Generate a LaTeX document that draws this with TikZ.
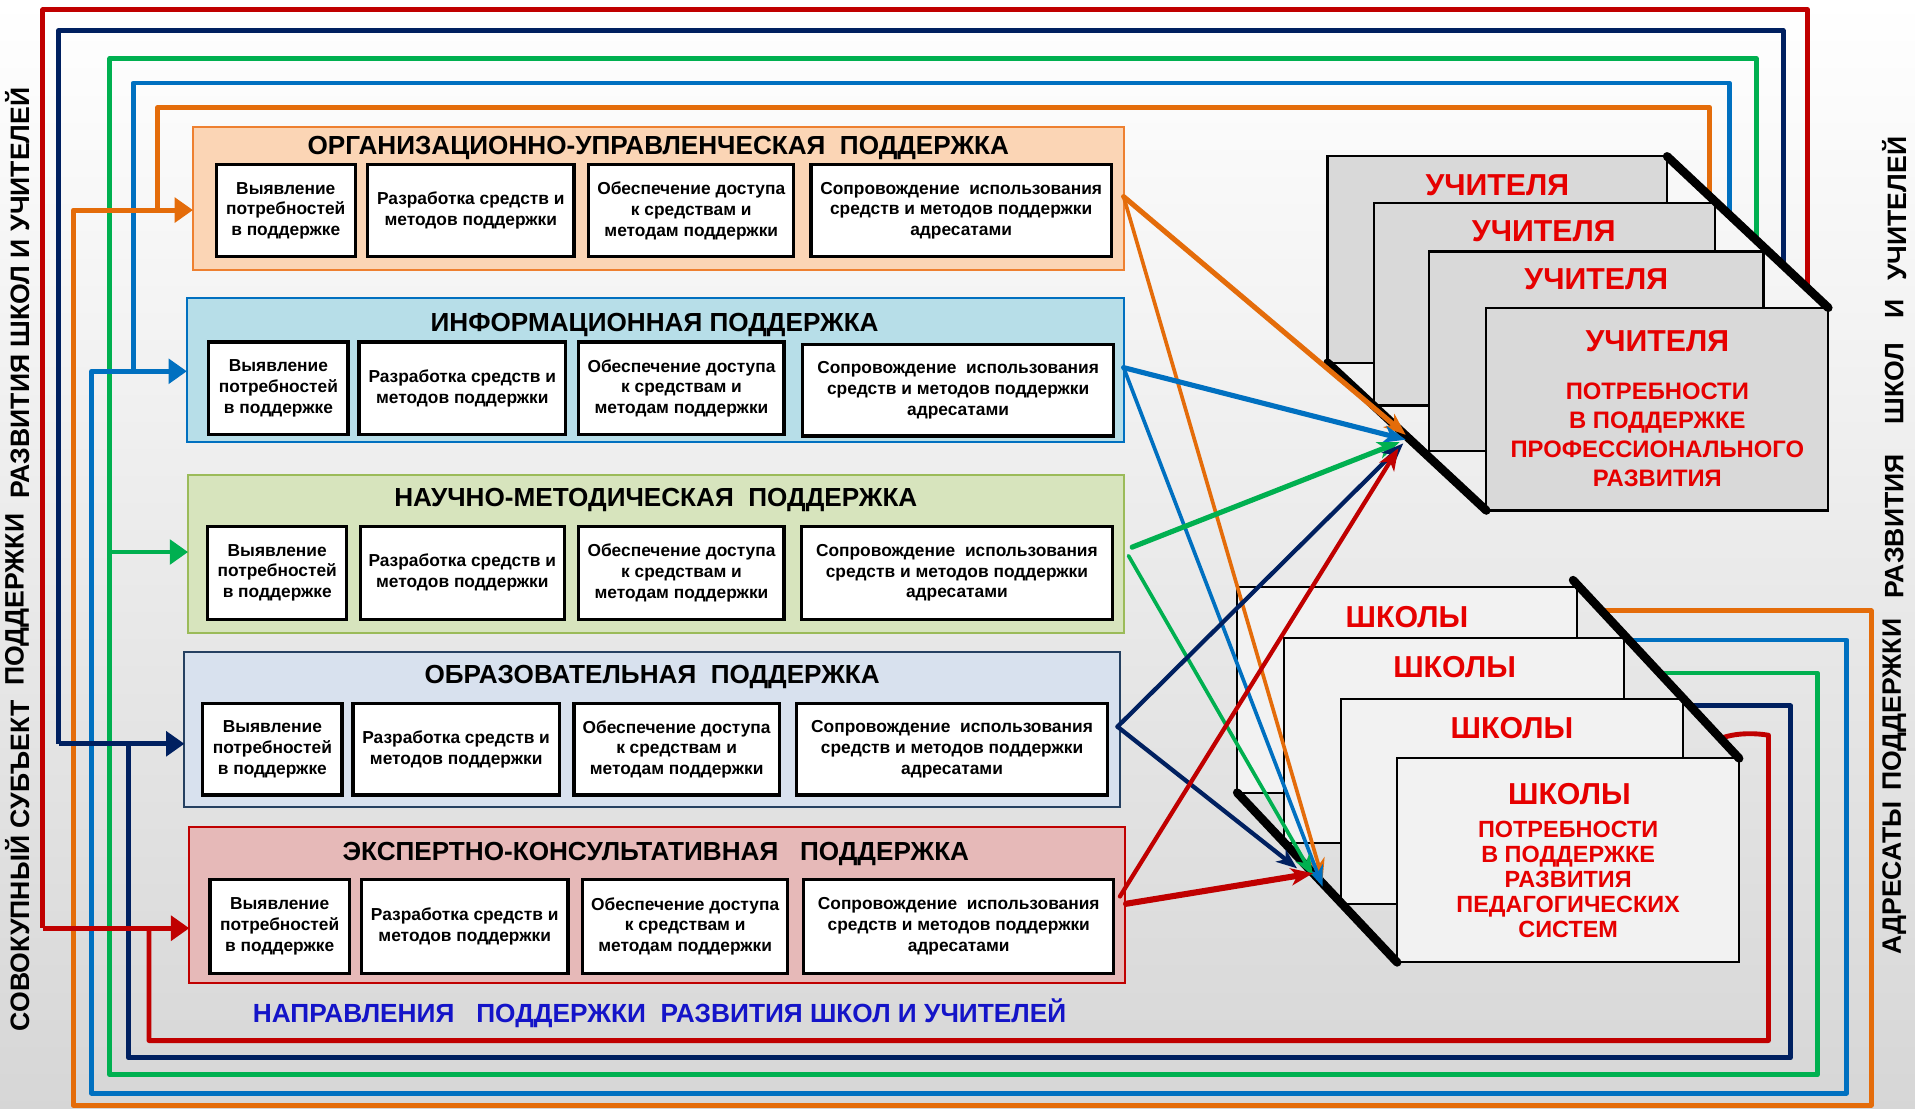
\documentclass[tikz,border=0pt]{standalone}
\usepackage{fontspec}
\setmainfont{Liberation Sans}
\usetikzlibrary{arrows.meta,fit}
\definecolor{cRed}{HTML}{C00000}
\definecolor{cNavy}{HTML}{002060}
\definecolor{cGreen}{HTML}{00B050}
\definecolor{cBlue}{HTML}{0070C0}
\definecolor{cOrange}{HTML}{E46C0A}
\definecolor{pOrF}{HTML}{FBD5B5}
\definecolor{pOrD}{HTML}{EE8030}
\definecolor{pBlF}{HTML}{B7DEE8}
\definecolor{pGrF}{HTML}{D7E4BD}
\definecolor{pGrD}{HTML}{9BBB59}
\definecolor{pEdF}{HTML}{D8E1EE}
\definecolor{pEdD}{HTML}{254061}
\definecolor{pExF}{HTML}{E6B9B8}
\definecolor{tRed}{HTML}{E60000}
\definecolor{tBlue}{HTML}{1414C8}
\definecolor{tchF}{HTML}{D9D9D9}
\definecolor{schF}{HTML}{F2F2F2}
\newcommand{\subbx}[6]{\node[subbox, fit={(#2,#3) (#4,#5)}] (#1) {};
  \node[boxtext] (#1t) at (#1.center) {#6};}
\newcommand{\tBoxA}{Выявление\\потребностей\\в поддержке}
\newcommand{\tBoxB}{Разработка средств и\\методов поддержки}
\newcommand{\tBoxC}{Обеспечение доступа\\к средствам и\\методам поддержки}
\newcommand{\tBoxD}{Сопровождение\ \ использования\\средств и методов поддержки\\адресатами}
\tikzset{
  panel/.style={draw, line width=1.6pt, inner sep=0pt, outer sep=0pt},
  ptitle/.style={font=\fontsize{21.4}{24}\selectfont\bfseries, inner sep=0pt},
  subbox/.style={draw=black, fill=white, line width=2.6pt, inner sep=0pt, outer sep=0pt},
  boxtext/.style={inner sep=0pt, align=center, font=\fontsize{14.2}{17}\selectfont\bfseries},
  tbox/.style={draw=black, fill=tchF, line width=1.8pt, inner sep=0pt, outer sep=0pt},
  sbox/.style={draw=black, fill=schF, line width=1.6pt, inner sep=0pt, outer sep=0pt},
  diag/.style={line width=7pt, line cap=round},
  bigt/.style={font=\fontsize{24.8}{28}\selectfont\bfseries, text=tRed, inner sep=0pt},
  subt/.style={font=\fontsize{19.5}{23.6}\selectfont\bfseries, text=tRed, inner sep=0pt, align=center},
  subs/.style={font=\fontsize{19.2}{20.6}\selectfont\bfseries, text=tRed, inner sep=0pt, align=center},
  vtext/.style={font=\fontsize{21.8}{24}\selectfont\bfseries, inner sep=0pt, rotate=90},
  loop/.style={line width=4pt, line join=round},
  bigarrow/.style={line width=4pt, -{Triangle[length=15pt,width=20pt]}},
  darT/.style={line width=4.2pt, line cap=round, -{Stealth[length=18pt,width=14pt,inset=5pt]}},
  darS/.style={line width=3pt, line cap=round, -{Stealth[length=17pt,width=13pt,inset=5pt]}},
}
\begin{document}
\begin{tikzpicture}[x=1pt,y=-1pt]
\useasboundingbox (0,0) rectangle (1568,908);
\shade[top color=white, bottom color=black!16] (0,0) rectangle (1568,908);

% ---------- loop lines ----------
% orange
\draw[loop, cOrange] (1400,161) -- (1400,88) -- (129,88) -- (129,172);
\draw[loop, cOrange] (1312,500) -- (1532,500) -- (1532,905) -- (60,905) -- (60,172) -- (129,172);
% blue
\draw[loop, cBlue] (1416,176) -- (1416,68) -- (109,68) -- (109,304);
\draw[loop, cBlue] (1335,524) -- (1512,524) -- (1512,895) -- (75,895) -- (75,304) -- (109,304);
% green
\draw[loop, cGreen] (1438,197) -- (1438,48) -- (90,48) -- (90,880) -- (1488,880) -- (1488,551) -- (1360,551);
% navy
\draw[loop, cNavy] (1460,217) -- (1460,25) -- (48,25) -- (48,609);
\draw[loop, cNavy] (1385,578) -- (1466,578) -- (1466,866) -- (105,866) -- (105,609);
% red
\draw[loop, cRed] (1480,236) -- (1480,8) -- (35,8) -- (35,760);
\draw[loop, cRed] (1408,605) .. controls (1420,600) and (1436,600) .. (1448,602) -- (1448,852) -- (122,852) -- (122,760);

% ---------- panels ----------
\node[panel, draw=pOrD, fill=pOrF, fit={(158,104) (920,221)}] (p1) {};
\node[panel, draw=cBlue, fill=pBlF, fit={(153,244) (920,362)}] (p2) {};
\node[panel, draw=pGrD, fill=pGrF, fit={(154,389) (920,518)}] (p3) {};
\node[panel, draw=pEdD, fill=pEdF, fit={(151,534) (917,661)}] (p4) {};
\node[panel, draw=cRed, fill=pExF, fit={(155,677) (921,805)}] (p5) {};

\coordinate (aO) at (60,172);
\coordinate (aB) at (75,304);
\coordinate (aG) at (90,452);
\coordinate (aN) at (48,609);
\coordinate (aR) at (35,760);
\draw[bigarrow, cOrange] (aO) -- (p1.west |- aO);
\draw[bigarrow, cBlue] (aB) -- (p2.west |- aB);
\draw[bigarrow, cGreen] (aG) -- (p3.west |- aG);
\draw[bigarrow, cNavy] (aN) -- (p4.west |- aN);
\draw[bigarrow, cRed] (aR) -- (p5.west |- aR);

\node[ptitle] (t1) at (539,121) {ОРГАНИЗАЦИОННО-УПРАВЛЕНЧЕСКАЯ\ \ ПОДДЕРЖКА};
\node[ptitle] (t2) at (536,266) {ИНФОРМАЦИОННАЯ ПОДДЕРЖКА};
\node[ptitle] (t3) at (537,409) {НАУЧНО-МЕТОДИЧЕСКАЯ\ \ ПОДДЕРЖКА};
\node[ptitle] (t4) at (534,554) {ОБРАЗОВАТЕЛЬНАЯ\ \ ПОДДЕРЖКА};
\node[ptitle] (t5) at (537,699) {ЭКСПЕРТНО-КОНСУЛЬТАТИВНАЯ\ \ \ ПОДДЕРЖКА};

\subbx{b11}{177}{135}{291}{210}{\tBoxA}
\subbx{b12}{301}{135}{470}{210}{\tBoxB}
\subbx{b13}{482}{135}{650}{210}{\tBoxC}
\subbx{b14}{664}{135}{910}{210}{\tBoxD}

\subbx{b21}{171}{280}{285}{356}{\tBoxA}
\subbx{b22}{294}{280}{463}{356}{\tBoxB}
\subbx{b23}{474}{280}{642}{356}{\tBoxC}
\subbx{b24}{657}{282}{912}{357}{\tBoxD}

\subbx{b31}{170}{431}{284}{507}{\tBoxA}
\subbx{b32}{295}{431}{462}{507}{\tBoxB}
\subbx{b33}{474}{431}{642}{507}{\tBoxC}
\subbx{b34}{656}{431}{911}{507}{\tBoxD}

\subbx{b41}{166}{576}{280}{651}{\tBoxA}
\subbx{b42}{289}{576}{458}{651}{\tBoxB}
\subbx{b43}{470}{576}{638}{651}{\tBoxC}
\subbx{b44}{652}{576}{907}{651}{\tBoxD}

\subbx{b51}{172}{720}{286}{797}{\tBoxA}
\subbx{b52}{296}{720}{465}{797}{\tBoxB}
\subbx{b53}{477}{720}{645}{797}{\tBoxC}
\subbx{b54}{658}{720}{912}{797}{\tBoxD}

\node[font=\fontsize{21.5}{24}\selectfont\bfseries, text=tBlue, inner sep=0pt] (bt) at (540,830) {НАПРАВЛЕНИЯ\ \ \ ПОДДЕРЖКИ\ \ РАЗВИТИЯ ШКОЛ И УЧИТЕЛЕЙ};

% ---------- vertical texts ----------
\node[vtext] (l1) at (14,709) {СОВОКУПНЫЙ СУБЪЕКТ};
\node[vtext] (l2) at (14,491) {ПОДДЕРЖКИ};
\node[vtext] (l3) at (14,240) {РАЗВИТИЯ ШКОЛ И УЧИТЕЛЕЙ};
\node[vtext] (r1) at (1551,719) {АДРЕСАТЫ};
\node[vtext] (r2) at (1551,577) {ПОДДЕРЖКИ};
\node[vtext] (r3) at (1551,431) {РАЗВИТИЯ};
\node[vtext] (r4) at (1551,314) {ШКОЛ};
\node[vtext] (r5) at (1551,253) {И};
\node[vtext] (r6) at (1551,171) {УЧИТЕЛЕЙ};

% ---------- teachers ----------
\node[tbox, fit={(1087,128) (1365,297)}] (tb1) {};
\node[bigt] (tt1) at (1226,152) {УЧИТЕЛЯ};
\node[tbox, fit={(1125,166) (1404,332)}] (tb2) {};
\node[bigt] (tt2) at (1264,189) {УЧИТЕЛЯ};
\node[tbox, fit={(1170,206) (1444,369)}] (tb3) {};
\node[bigt] (tt3) at (1307,229) {УЧИТЕЛЯ};
\node[tbox, fit={(1217,252) (1497,418)}] (tb4) {};
\node[bigt] (tt4) at (1357,279) {УЧИТЕЛЯ};
\node[subt] (ts) at (1357,356) {ПОТРЕБНОСТИ\\В ПОДДЕРЖКЕ\\ПРОФЕССИОНАЛЬНОГО\\РАЗВИТИЯ};
\draw[diag] (tb1.north east) -- (tb4.north east);
\draw[diag] (tb1.south west) -- (tb4.south west);

% ---------- schools ----------
\node[sbox, fit={(1013,481) (1291,649)}] (sb1) {};
\node[bigt] (st1) at (1152,505) {ШКОЛЫ};
\node[sbox, fit={(1051,522) (1330,690)}] (sb2) {};
\node[bigt] (st2) at (1191,546) {ШКОЛЫ};
\node[sbox, fit={(1098,572) (1378,740)}] (sb3) {};
\node[bigt] (st3) at (1238,596) {ШКОЛЫ};
\node[sbox, fit={(1144,621) (1424,788)}] (sb4) {};
\node[bigt] (st4) at (1285,650) {ШКОЛЫ};
\node[subs] (ss) at (1284,720) {ПОТРЕБНОСТИ\\В ПОДДЕРЖКЕ\\РАЗВИТИЯ\\ПЕДАГОГИЧЕСКИХ\\СИСТЕМ};
\draw[diag] ([shift={(-3,-6)}]sb1.north east) -- (sb4.north east);
\draw[diag] (sb1.south west) -- (sb4.south west);

% ---------- diagonal arrows ----------
\coordinate (sO) at (920,161);
\coordinate (sB) at (920,301);
\coordinate (sG1) at (927,448);
\coordinate (sG2) at (924,455);
\coordinate (sN) at (915,595);
\coordinate (sR1) at (917,734);
\coordinate (sR2) at (922,740);
\draw[darS, cOrange] (sO) -- (1083,720);
\draw[darS, cBlue] (sB) -- (1083,726);
\draw[darS, cGreen] (sG2) -- (1075,717);
\draw[darS, cNavy, line width=3.5pt] (sN) -- (1062,711);
\draw[darT, cRed, line width=5pt] (sR2) -- (1075,715);
\draw[darT, cOrange] (sO) -- (1151,356);
\draw[darT, cBlue] (sB) -- (1151,360);
\draw[darT, cGreen] (sG1) -- (1146,362);
\draw[darT, cNavy, line width=3.5pt] (sN) -- (1149,363);
\draw[darT, cRed, line width=3.5pt] (sR1) -- (1145,367);
\end{tikzpicture}
\end{document}
